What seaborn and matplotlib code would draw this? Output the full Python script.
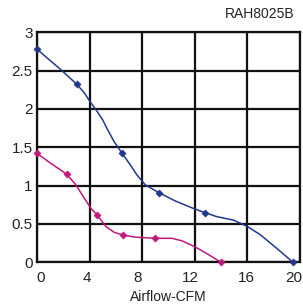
"""Fan performance curve RAH8025B."""
import numpy as np
import pandas as pd
import seaborn as sns
import matplotlib.pyplot as plt
from matplotlib.transforms import ScaledTranslation

# curve traces (airflow CFM, static pressure)
blue_x = [0, 0.81, 1.77, 3.04, 3.6, 4.1, 4.49, 4.99, 5.37, 5.88, 6.44, 7.1,
          7.6, 8.24, 9.25, 10.52, 11.79, 12.8, 13.69, 14.95, 15.97, 16.98,
          18.25, 19.47]
blue_y = [2.78, 2.66, 2.52, 2.32, 2.21, 2.08, 1.99, 1.86, 1.73, 1.57, 1.43,
          1.27, 1.14, 1.01, 0.91, 0.80, 0.71, 0.645, 0.595, 0.55, 0.47, 0.36,
          0.18, 0.0]
pink_x = [0, 1.06, 2.25, 2.96, 3.6, 4.1, 4.56, 5.25, 5.88, 6.55, 7.45, 9.0,
          10.27, 11.03, 12.04, 13.05, 14.0]
pink_y = [1.42, 1.29, 1.15, 1.01, 0.835, 0.705, 0.62, 0.465, 0.39, 0.356,
          0.328, 0.313, 0.313, 0.28, 0.20, 0.10, 0.0]

# measured points (markers)
blue_px = [0, 3.04, 6.44, 9.25, 12.8, 19.47]
blue_py = [2.78, 2.32, 1.43, 0.91, 0.645, 0.0]
pink_px = [0, 2.25, 4.56, 6.55, 9.0, 14.0]
pink_py = [1.42, 1.15, 0.62, 0.356, 0.313, 0.0]

x_ticks = [0, 4, 8, 12, 16, 20]
y_ticks = [0, 0.5, 1, 1.5, 2, 2.5, 3]
y_labels = ["0", "0.5", "1", "1.5", "2", "2.5", "3"]

BLUE = "#22388f"
PINK = "#c2187c"
TXT = "#222222"

sns.set_style("white")
plt.rcParams["font.family"] = ["Liberation Sans", "DejaVu Sans"]

fig = plt.figure(figsize=(3.03, 3.07), dpi=100)
ax = fig.add_axes([0.122, 0.1456, 0.868, 0.7492])

blue = pd.DataFrame({"x": blue_x, "y": blue_y})
pink = pd.DataFrame({"x": pink_x, "y": pink_y})
sns.lineplot(data=blue, x="x", y="y", sort=False, color=BLUE, lw=1.1, ax=ax)
sns.lineplot(data=pink, x="x", y="y", sort=False, color=PINK, lw=1.1, ax=ax)
sns.scatterplot(x=blue_px, y=blue_py, marker="D", s=14, color=BLUE,
                edgecolor=BLUE, zorder=5, clip_on=False, ax=ax)
sns.scatterplot(x=pink_px, y=pink_py, marker="D", s=14, color=PINK,
                edgecolor=PINK, zorder=5, clip_on=False, ax=ax)

ax.set_xlim(0, 20)
ax.set_ylim(0, 3)
ax.set_xticks(x_ticks)
ax.set_yticks(y_ticks)
ax.set_yticklabels(y_labels)
ax.grid(True, color="#111111", lw=1.6)
ax.set_axisbelow(True)
for sp in ax.spines.values():
    sp.set_color("#111111")
    sp.set_linewidth(1.6)
ax.tick_params(length=0, labelsize=11, colors=TXT)
ax.tick_params(axis="x", pad=6)
ax.tick_params(axis="y", pad=3)

# the source places the x labels slightly off their grid lines
shifts = [4, -2.5, -4.5, -4, -0.5, -6.5]
for lab, dx in zip(ax.get_xticklabels(), shifts):
    lab.set_transform(lab.get_transform()
                      + ScaledTranslation(dx / 100, 0, fig.dpi_scale_trans))

ax.set_xlabel("Airflow-CFM", fontsize=10, color=TXT, labelpad=4)
ax.set_ylabel("")
ax.text(0.978, 1.05, "RAH8025B", transform=ax.transAxes, ha="right",
        va="bottom", fontsize=10, color=TXT)

plt.savefig("out.png", dpi=100)
